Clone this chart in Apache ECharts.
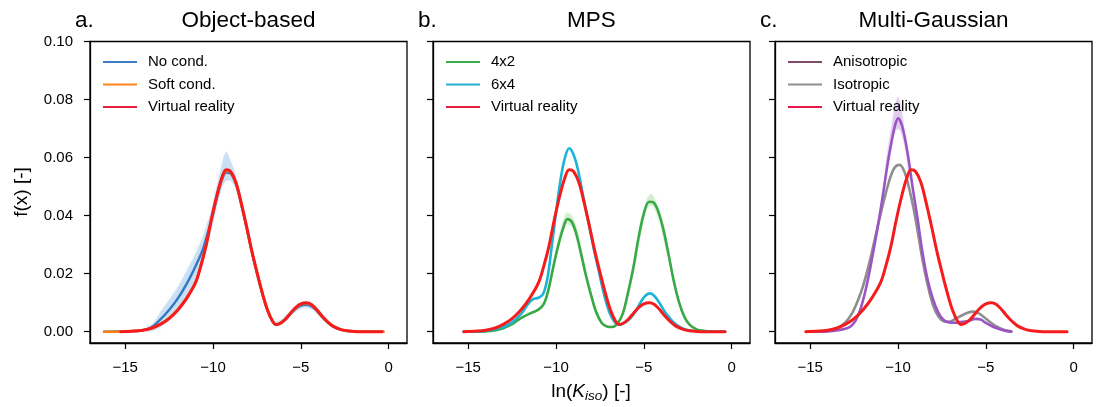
<!DOCTYPE html>
<html>
<head>
<meta charset="utf-8">
<script src="https://cdn.jsdelivr.net/npm/echarts@6/dist/echarts.min.js"></script>
<style>
  html, body { margin: 0; padding: 0; background: #fff; }
  #chart { width: 1100px; height: 407px; }
</style>
</head>
<body>
<div id="chart"></div>
<script>
// ---- Axis ticks ----
const xTicks = [-15, -10, -5, 0];
const yTicks = [0, 0.02, 0.04, 0.06, 0.08, 0.10];

// ---- Panel titles ----
const panelLetters = ['a.', 'b.', 'c.'];
const panelTitles = ['Object-based', 'MPS', 'Multi-Gaussian'];

// ---- Density curves: [ln(K_iso), f(x)] ----
const virtualReality = [[-15.25,0],[-14.5,0.0002],[-14,0.0005],[-13.5,0.0012],[-13,0.0025],[-12.5,0.0045],[-12,0.0075],[-11.5,0.0115],[-11,0.0168],[-10.7,0.0225],[-10.4,0.0295],[-10.1,0.0385],[-9.8,0.0465],[-9.5,0.053],[-9.25,0.0558],[-9.0,0.0552],[-8.7,0.0515],[-8.4,0.0445],[-8.1,0.0365],[-7.8,0.028],[-7.5,0.0205],[-7.2,0.0135],[-6.9,0.0075],[-6.6,0.0035],[-6.4,0.0025],[-6.2,0.0028],[-5.9,0.0042],[-5.6,0.0063],[-5.3,0.0083],[-5.0,0.0096],[-4.7,0.01],[-4.4,0.0094],[-4.1,0.0076],[-3.8,0.0054],[-3.5,0.0035],[-3.2,0.002],[-2.8,0.0009],[-2.4,0.0003],[-2,0.0001],[-1.5,0],[-0.38,0]];

const noCond = [[-16.2,0],[-15,0.0001],[-14.5,0.0002],[-14,0.0005],[-13.5,0.0015],[-13,0.0042],[-12.5,0.0075],[-12,0.0115],[-11.5,0.0165],[-11,0.0225],[-10.6,0.028],[-10.3,0.034],[-10,0.0405],[-9.7,0.048],[-9.45,0.053],[-9.25,0.0548],[-9.0,0.0545],[-8.7,0.051],[-8.4,0.0443],[-8.1,0.0362],[-7.8,0.0278],[-7.5,0.0203],[-7.2,0.0133],[-6.9,0.0074],[-6.6,0.0034],[-6.4,0.0024],[-6.2,0.0027],[-5.9,0.004],[-5.6,0.006],[-5.3,0.0079],[-5.0,0.009],[-4.7,0.0093],[-4.4,0.0088],[-4.1,0.0072],[-3.8,0.0051],[-3.5,0.0033],[-3.2,0.0019],[-2.8,0.0008],[-2.4,0.0003],[-2,0.0001],[-1.5,0],[-0.3,0]];

const softCond = [[-16.2,0],[-15.5,0],[-15,0.0001],[-14.5,0.0002],[-14,0.0005],[-13.5,0.0012],[-13,0.0026],[-12.5,0.0047],[-12,0.0077],[-11.5,0.0117],[-11,0.017],[-10.7,0.0226],[-10.4,0.0295],[-10.1,0.0383],[-9.8,0.0462],[-9.5,0.0526],[-9.25,0.0554],[-9.0,0.0549],[-8.7,0.0512],[-8.4,0.0443],[-8.1,0.0363],[-7.8,0.0279],[-7.5,0.0204],[-7.2,0.0134],[-6.9,0.0075],[-6.6,0.0035],[-6.4,0.0025],[-6.2,0.0028],[-5.9,0.0041],[-5.6,0.0062],[-5.3,0.0081],[-5.0,0.0094],[-4.7,0.0098],[-4.4,0.0092],[-4.1,0.0075],[-3.8,0.0053],[-3.5,0.0034],[-3.2,0.002],[-2.8,0.0009],[-2.4,0.0003],[-2,0.0001],[-1.5,0],[-0.3,0]];

const mps4x2 = [[-15.25,0],[-14.5,0],[-14,0.0001],[-13.5,0.0004],[-13,0.0012],[-12.5,0.0026],[-12,0.0047],[-11.5,0.0062],[-11,0.0076],[-10.7,0.0095],[-10.45,0.014],[-10.2,0.021],[-9.9,0.029],[-9.6,0.0355],[-9.35,0.0388],[-9.1,0.0378],[-8.85,0.0338],[-8.6,0.0275],[-8.3,0.0195],[-8.0,0.0125],[-7.7,0.0065],[-7.4,0.003],[-7.1,0.0018],[-6.8,0.0016],[-6.5,0.0028],[-6.2,0.0062],[-5.9,0.0135],[-5.6,0.022],[-5.3,0.0325],[-5.0,0.0408],[-4.7,0.0448],[-4.45,0.0445],[-4.2,0.0418],[-3.9,0.0355],[-3.6,0.0268],[-3.3,0.0175],[-3.0,0.0102],[-2.7,0.0052],[-2.4,0.0024],[-2.0,0.0008],[-1.6,0.0003],[-1,0],[-0.38,0]];

const mps6x4 = [[-15.25,0],[-14.5,0],[-14,0.0003],[-13.5,0.0008],[-13,0.0016],[-12.5,0.0032],[-12,0.006],[-11.6,0.0095],[-11.3,0.0112],[-11.0,0.0117],[-10.75,0.0128],[-10.5,0.018],[-10.25,0.029],[-10.0,0.041],[-9.75,0.052],[-9.5,0.0598],[-9.25,0.0632],[-9.0,0.061],[-8.75,0.0558],[-8.45,0.0465],[-8.15,0.0375],[-7.85,0.0285],[-7.55,0.0205],[-7.25,0.0125],[-6.95,0.0065],[-6.65,0.0032],[-6.35,0.0024],[-6.05,0.0032],[-5.75,0.0048],[-5.45,0.0072],[-5.15,0.0105],[-4.9,0.0125],[-4.65,0.0132],[-4.4,0.0123],[-4.1,0.0098],[-3.8,0.0068],[-3.5,0.0045],[-3.2,0.0026],[-2.8,0.0011],[-2.3,0.0003],[-1.8,0.0001],[-1,0],[-0.38,0]];

const anisotropic = [[-15.2,0],[-14.5,0],[-14,0.0001],[-13.5,0.0004],[-13,0.001],[-12.7,0.0018],[-12.4,0.004],[-12.1,0.0085],[-11.8,0.0155],[-11.5,0.0245],[-11.2,0.0345],[-10.9,0.0455],[-10.6,0.0575],[-10.35,0.066],[-10.15,0.0715],[-9.99,0.0735],[-9.8,0.0715],[-9.6,0.0665],[-9.4,0.0595],[-9.15,0.049],[-8.9,0.0395],[-8.6,0.027],[-8.3,0.0175],[-8.0,0.011],[-7.7,0.0065],[-7.4,0.004],[-7.1,0.0032],[-6.8,0.0031],[-6.4,0.0033],[-6.0,0.0037],[-5.6,0.0044],[-5.3,0.0042],[-5.0,0.003],[-4.6,0.0017],[-4.2,0.0008],[-3.8,0.0002],[-3.55,0]];

const isotropic = [[-15.2,0],[-14.5,0.0001],[-14,0.0003],[-13.5,0.0011],[-13,0.0032],[-12.6,0.0065],[-12.3,0.0105],[-12,0.0155],[-11.6,0.0245],[-11.2,0.035],[-10.85,0.044],[-10.5,0.052],[-10.2,0.0565],[-9.9,0.0575],[-9.6,0.0545],[-9.35,0.049],[-9.1,0.042],[-8.85,0.0335],[-8.6,0.0245],[-8.3,0.0158],[-8.0,0.009],[-7.7,0.0052],[-7.4,0.0036],[-7.1,0.0034],[-6.8,0.0042],[-6.4,0.0055],[-6.0,0.0066],[-5.7,0.0069],[-5.4,0.0063],[-5.1,0.005],[-4.8,0.0035],[-4.4,0.0018],[-4.0,0.0007],[-3.55,0.0001]];

// ---- Realisation spread (min / max envelopes) ----
const noCondBandX  = [-13.8,-13.4,-13,-12.5,-12,-11.5,-11,-10.6,-10.3,-10,-9.7,-9.45,-9.25,-9.0,-8.7,-8.4,-8,-7.5,-7,-6.5,-6,-5.5,-5,-4.7,-4.3,-3.8,-3.3];
const noCondBandLo = [0,0.0003,0.0015,0.004,0.0075,0.012,0.0175,0.0235,0.030,0.037,0.045,0.050,0.052,0.052,0.049,0.042,0.033,0.019,0.0085,0.002,0.0035,0.006,0.0078,0.0082,0.0075,0.0045,0.0018];
const noCondBandHi = [0.0012,0.003,0.0068,0.011,0.0155,0.021,0.027,0.0325,0.038,0.0445,0.0525,0.059,0.062,0.059,0.054,0.0465,0.0365,0.0225,0.0105,0.0035,0.0048,0.0078,0.0098,0.0104,0.0097,0.0064,0.003];

const mps4x2BandX  = [-10.3,-10,-9.7,-9.4,-9.1,-8.8,-8.5,-8.2,-7.8,-7.2,-6.6,-6.2,-5.8,-5.4,-5.1,-4.8,-4.55,-4.3,-4,-3.7];
const mps4x2BandLo = [0.0165,0.0255,0.0325,0.037,0.0362,0.0318,0.0245,0.0165,0.0085,0.0018,0.0018,0.0058,0.014,0.0255,0.0355,0.0425,0.0435,0.041,0.035,0.0265];
const mps4x2BandHi = [0.0195,0.029,0.036,0.041,0.040,0.0355,0.0275,0.0185,0.0098,0.0022,0.0024,0.0072,0.0165,0.0285,0.039,0.0462,0.0475,0.0445,0.038,0.029];

const anisoBandX  = [-10.7,-10.45,-10.2,-10.0,-9.8,-9.55,-9.3];
const anisoBandLo = [0.054,0.062,0.068,0.070,0.068,0.061,0.051];
const anisoBandHi = [0.058,0.068,0.077,0.081,0.077,0.066,0.055];

// ---- Layout ----
const FONT = "'Liberation Sans', Arial, Helvetica, sans-serif";
const panels = [
  { left: 90,  right: 1100 - 407 },
  { left: 433, right: 1100 - 750 },
  { left: 775, right: 1100 - 1092 }
];
const GRID_TOP = 41.5, GRID_BOTTOM = 407 - 343;

const C = {
  blue: '#2f78c4', orange: '#ff7f0e', red: '#f41c1c',
  green: '#37a945', cyan: '#1ab4d6', purple: '#9a55c2', grey: '#8e8e8e'
};

function fmtX(v) { return v < 0 ? '\u2212' + Math.abs(v) : String(v); }

const grids = panels.map(p => ({
  left: p.left, right: p.right, top: GRID_TOP, bottom: GRID_BOTTOM,
  show: true, borderColor: '#000', borderWidth: 1.3, backgroundColor: 'transparent'
}));

const xAxes = panels.map((p, i) => ({
  type: 'value', gridIndex: i, min: -17, max: 1.04,
  splitLine: { show: false },
  axisLine: { show: true, onZero: false, lineStyle: { color: '#000', width: 1.3 } },
  axisTick: { show: true, length: 6, inside: false, customValues: xTicks, lineStyle: { color: '#000', width: 1.2 } },
  axisLabel: { show: true, customValues: xTicks, formatter: fmtX, margin: 17,
    color: '#000', fontFamily: FONT, fontSize: 15 }
}));

const yAxes = panels.map((p, i) => ({
  type: 'value', gridIndex: i, min: -0.0039, max: 0.1,
  splitLine: { show: false },
  axisLine: { show: true, onZero: false, lineStyle: { color: '#000', width: 1.3 } },
  axisTick: { show: true, length: 6, inside: false, customValues: yTicks, lineStyle: { color: '#000', width: 1.2 } },
  axisLabel: { show: i === 0, customValues: yTicks, formatter: v => v.toFixed(2), margin: 17,
    color: '#000', fontFamily: FONT, fontSize: 15 }
}));

function curve(name, data, color, idx, width, z) {
  return {
    type: 'line', name, data, xAxisIndex: idx, yAxisIndex: idx,
    showSymbol: false, symbol: 'none', smooth: 0.35, z: z,
    lineStyle: { color, width: width, cap: 'round', join: 'round' },
    itemStyle: { color }, emphasis: { disabled: true }, silent: true
  };
}

function band(xs, lo, hi, fill, idx) {
  return {
    type: 'custom', xAxisIndex: idx, yAxisIndex: idx, silent: true, z: 1,
    data: [[xs[0], lo[0]]],
    renderItem: (params, api) => {
      const pts = [];
      for (let i = 0; i < xs.length; i++) pts.push(api.coord([xs[i], hi[i]]));
      for (let i = xs.length - 1; i >= 0; i--) pts.push(api.coord([xs[i], lo[i]]));
      return { type: 'polygon', shape: { points: pts, smooth: 0.3 },
               style: { fill: fill, shadowBlur: 4, shadowColor: fill } };
    }
  };
}

const series = [
  band(noCondBandX, noCondBandLo, noCondBandHi, 'rgba(110,165,225,0.30)', 0),
  curve('No cond.', noCond, C.blue, 0, 2.4, 3),
  curve('Soft cond.', softCond, C.orange, 0, 2.6, 4),
  curve('Virtual reality', virtualReality, C.red, 0, 3, 5),

  band(mps4x2BandX, mps4x2BandLo, mps4x2BandHi, 'rgba(120,200,120,0.28)', 1),
  curve('4x2', mps4x2, C.green, 1, 2.6, 3),
  curve('6x4', mps6x4, C.cyan, 1, 2.6, 4),
  curve('Virtual reality', virtualReality, C.red, 1, 3, 5),

  band(anisoBandX, anisoBandLo, anisoBandHi, 'rgba(170,120,210,0.30)', 2),
  curve('Isotropic', isotropic, C.grey, 2, 2.6, 3),
  curve('Anisotropic', anisotropic, C.purple, 2, 2.6, 4),
  curve('Virtual reality', virtualReality, C.red, 2, 3, 5)
];

const legendEntries = [
  [{ name: 'No cond.', itemStyle: { color: '#3f7cc2' } },
   { name: 'Soft cond.', itemStyle: { color: '#ff8418' } },
   { name: 'Virtual reality', itemStyle: { color: '#e51d3f' } }],
  [{ name: '4x2', itemStyle: { color: '#3aab49' } },
   { name: '6x4', itemStyle: { color: '#22b2d4' } },
   { name: 'Virtual reality', itemStyle: { color: '#e51d3f' } }],
  [{ name: 'Anisotropic', itemStyle: { color: '#7e4a68' } },
   { name: 'Isotropic', itemStyle: { color: '#8e8e8e' } },
   { name: 'Virtual reality', itemStyle: { color: '#e8194a' } }]
];

const legends = panels.map((p, i) => ({
  orient: 'vertical', left: p.left + 13, top: 54.5, padding: 0,
  itemWidth: 34, itemHeight: 2.2, itemGap: 7.5, icon: 'rect',
  selectedMode: false, data: legendEntries[i],
  textStyle: { color: '#000', fontFamily: FONT, fontSize: 15, padding: [0, 0, 0, 6] }
}));

const graphics = [];
panels.forEach((p, i) => {
  const gl = p.left, gr = 1100 - p.right;
  graphics.push({ type: 'text', x: gl - 15, y: 21, silent: true,
    style: { text: panelLetters[i], font: '22.5px ' + FONT, fill: '#000',
             textAlign: 'left', textVerticalAlign: 'middle' } });
  graphics.push({ type: 'text', x: (gl + gr) / 2, y: 21, silent: true,
    style: { text: panelTitles[i], font: '22.5px ' + FONT, fill: '#000',
             textAlign: 'center', textVerticalAlign: 'middle' } });
});
graphics.push({ type: 'text', x: 22, y: 192, rotation: Math.PI / 2, silent: true,
  style: { text: 'f(x) [-]', font: '19px ' + FONT, fill: '#000',
           textAlign: 'center', textVerticalAlign: 'middle' } });
graphics.push({ type: 'text', x: 591, y: 392, silent: true,
  style: {
    text: 'ln({k|K}{s|iso}) [-]', font: '19px ' + FONT, fill: '#000',
    textAlign: 'center', textVerticalAlign: 'middle',
    rich: {
      k: { fontStyle: 'italic', fontSize: 19, fontFamily: FONT, fill: '#000' },
      s: { fontStyle: 'italic', fontSize: 13.5, fontFamily: FONT, fill: '#000', padding: [9, 0, 0, 0] }
    }
  } });

const chart = echarts.init(document.getElementById('chart'), null, { renderer: 'canvas' });
chart.setOption({
  animation: false,
  backgroundColor: '#fff',
  grid: grids,
  xAxis: xAxes,
  yAxis: yAxes,
  legend: legends,
  series: series,
  graphic: graphics
});
</script>
</body>
</html>
